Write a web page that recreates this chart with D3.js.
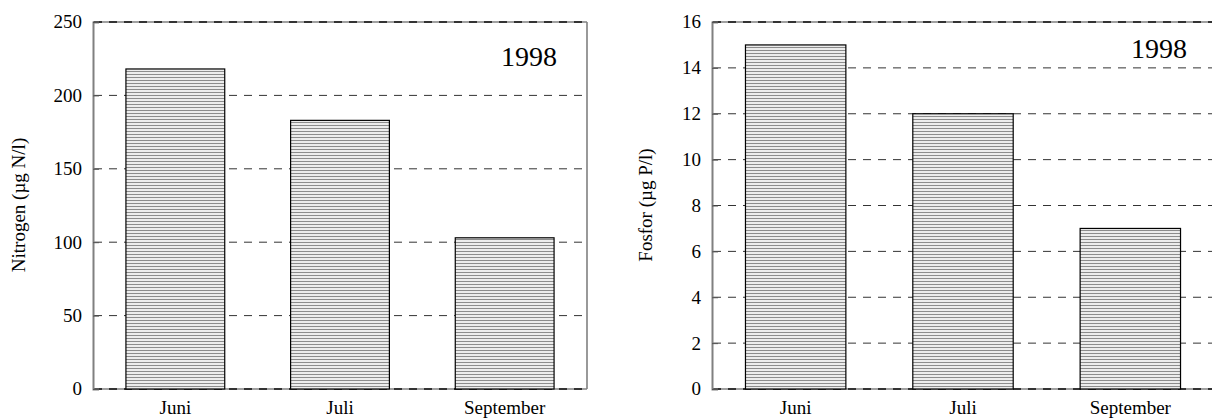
<!DOCTYPE html>
<html lang="no">
<head>
  <meta charset="UTF-8">
  <title>Nitrogen og fosfor 1998</title>
  <script src="https://d3js.org/d3.v7.min.js"></script>
  <style>
    body {
      margin: 0;
      background: #fff;
      font-family: "Liberation Serif", "Times New Roman", serif;
    }
    svg text {
      fill: #000;
    }
  </style>
</head>
<body>
<svg width="1212" height="418"></svg>

<script>
  const months = ["Juni", "Juli", "September"];
  const nitrogen = [218, 183, 103];
  const fosfor = [15, 12, 7];
  const nitrogenTicks = [0, 50, 100, 150, 200, 250];
  const fosforTicks = [0, 2, 4, 6, 8, 10, 12, 14, 16];
  const yearLabel = "1998";

  const svg = d3.select("svg");

  // striped fill for the bars
  const pat = svg.append("defs").append("pattern")
    .attr("id", "stripes")
    .attr("patternUnits", "userSpaceOnUse")
    .attr("width", 6)
    .attr("height", 3);
  pat.append("rect").attr("width", 6).attr("height", 3).attr("fill", "#ececec");
  pat.append("rect").attr("y", 2).attr("width", 6).attr("height", 1).attr("fill", "#8c8c8c");

  const plotTop = 22, plotBottom = 389;

  function drawPanel(cfg) {
    const g = svg.append("g");

    const x = d3.scaleBand()
      .domain(months)
      .range([cfg.left, cfg.right])
      .paddingInner(0.4)
      .paddingOuter(0.2);

    const y = d3.scaleLinear()
      .domain([0, d3.max(cfg.ticks)])
      .range([plotBottom, plotTop]);

    // frame lines top and bottom (grey under the dashes)
    g.selectAll(".edge")
      .data([d3.max(cfg.ticks), 0])
      .join("line")
      .attr("x1", cfg.left).attr("x2", cfg.right)
      .attr("y1", d => y(d)).attr("y2", d => y(d))
      .attr("stroke", "#a0a0a0")
      .attr("stroke-width", 2);

    // dashed grid
    g.selectAll(".grid")
      .data(cfg.ticks)
      .join("line")
      .attr("x1", cfg.left + 1).attr("x2", cfg.right)
      .attr("y1", d => y(d)).attr("y2", d => y(d))
      .attr("stroke", "#333")
      .attr("stroke-width", d => (d === 0 || d === d3.max(cfg.ticks)) ? 2 : 1)
      .attr("stroke-dasharray", "8,7");

    if (cfg.rightBorder) {
      g.append("line")
        .attr("x1", cfg.right).attr("x2", cfg.right)
        .attr("y1", plotTop).attr("y2", plotBottom)
        .attr("stroke", "#808080")
        .attr("stroke-width", 1.6);
    }

    // bars
    g.selectAll(".bar")
      .data(cfg.values)
      .join("rect")
      .attr("x", (d, i) => x(months[i]))
      .attr("y", d => y(d))
      .attr("width", x.bandwidth())
      .attr("height", d => y(0) - y(d))
      .attr("fill", "url(#stripes)")
      .attr("stroke", "#000")
      .attr("stroke-width", 1.2);

    // left axis
    const axis = d3.axisRight(y)
      .tickValues(cfg.ticks)
      .tickSize(6)
      .tickFormat("");
    const ag = g.append("g")
      .attr("transform", `translate(${cfg.left},0)`)
      .call(axis);
    ag.select(".domain").attr("stroke", "#808080").attr("stroke-width", 2);
    ag.selectAll(".tick line").attr("stroke", "#555");

    g.selectAll(".ylab")
      .data(cfg.ticks)
      .join("text")
      .attr("x", cfg.left - 11)
      .attr("y", d => y(d))
      .attr("dy", "0.34em")
      .attr("text-anchor", "end")
      .style("font-size", "19px")
      .text(d => d);

    g.selectAll(".xlab")
      .data(months)
      .join("text")
      .attr("x", d => x(d) + x.bandwidth() / 2)
      .attr("y", 414)
      .attr("text-anchor", "middle")
      .style("font-size", "19px")
      .text(d => d);

    g.append("text")
      .attr("transform", `translate(${cfg.titleX},205) rotate(-90)`)
      .attr("text-anchor", "middle")
      .style("font-size", "19px")
      .text(cfg.title);

    g.append("text")
      .attr("x", cfg.yearX)
      .attr("y", cfg.yearY)
      .attr("text-anchor", "end")
      .style("font-size", "28px")
      .text(yearLabel);
  }

  drawPanel({
    left: 93, right: 587,
    values: nitrogen, ticks: nitrogenTicks,
    title: "Nitrogen (µg N/l)", titleX: 25,
    yearX: 557, yearY: 66,
    rightBorder: true
  });

  drawPanel({
    left: 712, right: 1214,
    values: fosfor, ticks: fosforTicks,
    title: "Fosfor (µg P/l)", titleX: 652,
    yearX: 1187, yearY: 58,
    rightBorder: false
  });
</script>
</body>
</html>
